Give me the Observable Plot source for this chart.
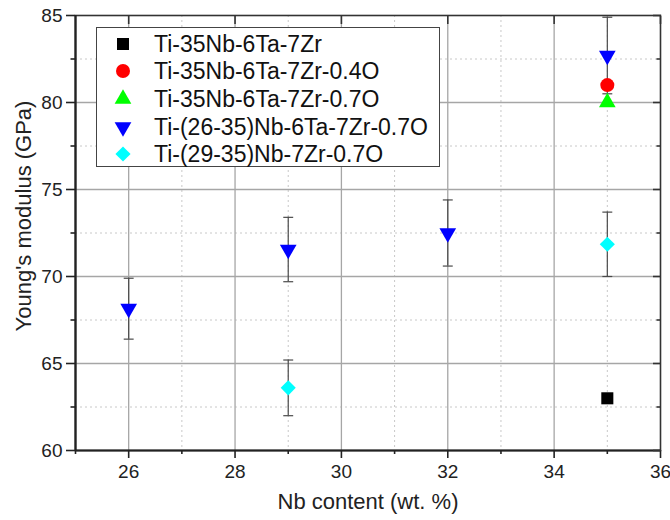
<!DOCTYPE html>
<html>
<head>
<meta charset="utf-8">
<script src="https://cdn.jsdelivr.net/npm/d3@7"></script>
<script src="https://cdn.jsdelivr.net/npm/@observablehq/plot@0.6"></script>
<style>
  body { margin: 0; background: #fff; font-family: "Liberation Sans", Arial, sans-serif; }
  #wrap { position: relative; width: 670px; height: 520px; }
  #legend { position: absolute; left: 96px; top: 27px; width: 344px; height: 140px;
            border: 1px solid #444; background: #fff; box-sizing: border-box; }
  .item { position: absolute; left: 0; height: 28px; width: 100%; }
  .item svg { position: absolute; left: 14px; top: 2px; }
  .item span { position: absolute; left: 57px; top: 0; font-size: 23px; line-height: 28px; color: #111; white-space: nowrap; }
</style>
</head>
<body>
<div id="wrap"></div>
<script>
// ---- data ----
const seriesNames = [
  "Ti-35Nb-6Ta-7Zr",
  "Ti-35Nb-6Ta-7Zr-0.4O",
  "Ti-35Nb-6Ta-7Zr-0.7O",
  "Ti-(26-35)Nb-6Ta-7Zr-0.7O",
  "Ti-(29-35)Nb-7Zr-0.7O"
];
const seriesColors = ["#000000", "#ff0000", "#00ff00", "#0000ff", "#00ffff"];

const s1X = [35];             const s1Y = [63.0];
const s2X = [35];             const s2Y = [81.0];
const s3X = [35];             const s3Y = [80.0];
const s4X = [26, 29, 32, 35]; const s4Y = [68.15, 71.55, 72.5, 82.7]; const s4Err = [1.75, 1.85, 1.9, 2.2];
const s5X = [29, 35];         const s5Y = [63.6, 71.85];              const s5Err = [1.6, 1.85];

const xMajor = [26, 28, 30, 32, 34, 36];
const xMinor = [25, 27, 29, 31, 33, 35];
const yMajor = [60, 65, 70, 75, 80, 85];
const yMinor = [62.5, 67.5, 72.5, 77.5, 82.5];
const xGridMajor = [26, 28, 30, 32, 34];
const yGridMajor = [65, 70, 75, 80];

const xTitle = "Nb content (wt. %)";
const yTitle = "Young's modulus (GPa)";

// ---- helpers ----
const capSymbol = {
  draw(ctx, size) { const w = Math.sqrt(size) / 2; ctx.moveTo(-w, 0); ctx.lineTo(w, 0); }
};
const lo = (ys, es) => ys.map((y, i) => y - es[i]);
const hi = (ys, es) => ys.map((y, i) => y + es[i]);
const errColor = "#4a4a4a";
const font = "Liberation Sans, Arial, sans-serif";

const plot = Plot.plot({
  width: 670, height: 520,
  marginLeft: 75, marginRight: 10, marginTop: 15, marginBottom: 70,
  x: { domain: [25, 36], axis: null, label: null },
  y: { domain: [60, 85], axis: null, label: null },
  style: { fontFamily: font, fontSize: "19px", color: "#222", background: "#fff", overflow: "visible" },
  marks: [
    Plot.gridX(xMinor.slice(1), { stroke: "#c8c8c8", strokeOpacity: 1, strokeDasharray: "2,3" }),
    Plot.gridY(yMinor, { stroke: "#c8c8c8", strokeOpacity: 1, strokeDasharray: "2,3" }),
    Plot.gridX(xGridMajor, { stroke: "#a6a6a6", strokeOpacity: 1, strokeWidth: 1.3 }),
    Plot.gridY(yGridMajor, { stroke: "#a6a6a6", strokeOpacity: 1, strokeWidth: 1.3 }),

    // error bars
    Plot.ruleX(s4X, { x: s4X, y1: lo(s4Y, s4Err), y2: hi(s4Y, s4Err), stroke: errColor, strokeWidth: 1.2 }),
    Plot.ruleX(s5X, { x: s5X, y1: lo(s5Y, s5Err), y2: hi(s5Y, s5Err), stroke: errColor, strokeWidth: 1.2 }),
    Plot.dot(s4X, { x: s4X, y: lo(s4Y, s4Err), symbol: capSymbol, r: 5.6, stroke: errColor, strokeWidth: 1.2 }),
    Plot.dot(s4X, { x: s4X, y: hi(s4Y, s4Err), symbol: capSymbol, r: 5.6, stroke: errColor, strokeWidth: 1.2 }),
    Plot.dot(s5X, { x: s5X, y: lo(s5Y, s5Err), symbol: capSymbol, r: 5.6, stroke: errColor, strokeWidth: 1.2 }),
    Plot.dot(s5X, { x: s5X, y: hi(s5Y, s5Err), symbol: capSymbol, r: 5.6, stroke: errColor, strokeWidth: 1.2 }),

    // markers
    Plot.dot(s1Y, { x: s1X, y: s1Y, symbol: "square", r: 6.8, fill: seriesColors[0] }),
    Plot.dot(s3Y, { x: s3X, y: s3Y, symbol: "triangle", r: 6.2, fill: seriesColors[2] }),
    Plot.dot(s2Y, { x: s2X, y: s2Y, symbol: "circle", r: 7, fill: seriesColors[1] }),
    Plot.dot(s4Y, { x: s4X, y: s4Y, symbol: "triangle", rotate: 180, r: 6.2, fill: seriesColors[3] }),
    Plot.dot(s5Y, { x: s5X, y: s5Y, symbol: "diamond2", r: 6.8, fill: seriesColors[4] }),

    // frame
    Plot.frame({ stroke: "#333", strokeWidth: 1.6 }),
    Plot.ruleX([25], { stroke: "#222", strokeWidth: 2.2 }),
    Plot.ruleY([60], { stroke: "#222", strokeWidth: 2.2 }),

    // axes
    Plot.axisX(xMajor, { anchor: "bottom", tickSize: 8, tickPadding: 6, tickFormat: d => String(d), label: null, stroke: "#222", strokeWidth: 1.6, fontSize: 19 }),
    Plot.axisX(xMinor, { anchor: "bottom", tickSize: 4, tickFormat: () => "", label: null, stroke: "#222", strokeWidth: 1.6 }),
    Plot.axisY(yMajor, { anchor: "left", tickSize: 9, tickPadding: 4, tickFormat: d => String(d), label: null, stroke: "#222", strokeWidth: 1.6, fontSize: 19 }),
    Plot.axisY(yMinor, { anchor: "left", tickSize: 4.5, tickFormat: () => "", label: null, stroke: "#222", strokeWidth: 1.6 }),
    Plot.axisX(xMajor, { anchor: "top", tickSize: -8, tickFormat: () => "", label: null, stroke: "#333", strokeWidth: 1.6 }),
    Plot.axisY(yMajor, { anchor: "right", tickSize: -8, tickFormat: () => "", label: null, stroke: "#333", strokeWidth: 1.6 }),
    Plot.axisY(yMinor, { anchor: "right", tickSize: -4.5, tickFormat: () => "", label: null, stroke: "#333", strokeWidth: 1.6 }),

    // titles
    Plot.text([xTitle], { frameAnchor: "bottom", dy: 58, text: d => d, fontSize: 22, fill: "#222" }),
    Plot.text([yTitle], { frameAnchor: "left", textAnchor: "middle", dx: -52, dy: -17, rotate: -90, text: d => d, fontSize: 22, fill: "#222" })
  ]
});

const wrap = document.getElementById("wrap");
wrap.appendChild(plot);

// legend
const legend = document.createElement("div");
legend.id = "legend";
const legendSymbols = [
  { sym: d3.symbolSquare, size: 144, rot: 0 },
  { sym: d3.symbolCircle, size: Math.PI * 49, rot: 0 },
  { sym: d3.symbolTriangle, size: Math.PI * 6.2 * 6.2, rot: 0 },
  { sym: d3.symbolTriangle, size: Math.PI * 6.2 * 6.2, rot: 180 },
  { sym: d3.symbolDiamond2, size: Math.PI * 6.8 * 6.8, rot: 0 }
];
const rowTops = [2, 29, 57, 85, 112];
seriesNames.forEach((name, i) => {
  const item = document.createElement("div");
  item.className = "item";
  item.style.top = rowTops[i] + "px";
  const s = legendSymbols[i];
  const path = d3.symbol(s.sym, s.size)();
  item.innerHTML = `<svg width="24" height="24" viewBox="-12 -12 24 24"><path d="${path}" fill="${seriesColors[i]}" transform="rotate(${s.rot})"/></svg><span>${name}</span>`;
  legend.appendChild(item);
});
wrap.appendChild(legend);
</script>
</body>
</html>
